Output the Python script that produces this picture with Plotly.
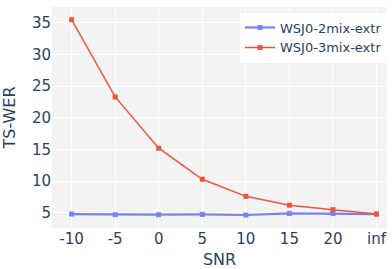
import plotly.graph_objects as go

snr = ["-10", "-5", "0", "5", "10", "15", "20", "inf"]
wer_2mix = [4.8, 4.7, 4.7, 4.75, 4.65, 4.9, 4.9, 4.8]
wer_3mix = [35.5, 23.3, 15.2, 10.3, 7.6, 6.2, 5.5, 4.8]

fig = go.Figure()
fig.add_trace(go.Scatter(x=snr, y=wer_2mix, name="WSJ0-2mix-extr", mode="lines+markers",
                         line=dict(color="#636efa", width=2.2), marker=dict(size=5, symbol="square"),
                         opacity=0.85))
fig.add_trace(go.Scatter(x=snr, y=wer_3mix, name="WSJ0-3mix-extr", mode="lines+markers",
                         line=dict(color="#EF553B", width=1.5), marker=dict(size=5, symbol="square")))

fig.update_layout(
    width=392, height=269,
    template="plotly",
    paper_bgcolor="white",
    plot_bgcolor="#f3f3f3",
    margin=dict(l=52, r=5, t=7, b=41),
    font=dict(family="DejaVu Sans, Verdana, sans-serif", size=15, color="#2a3f5f"),
    legend=dict(x=1, y=0.975, xanchor="right", yanchor="top", bgcolor="white",
                font=dict(size=13), tracegroupgap=0),
    xaxis=dict(title=dict(text="SNR", font=dict(size=16)), type="category", range=[-0.45, 7.24],
               tickfont=dict(size=15), gridcolor="white", automargin=False),
    yaxis=dict(title=dict(text="TS-WER", font=dict(size=16)), range=[2.6, 37.5],
               tickvals=[5, 10, 15, 20, 25, 30, 35],
               tickfont=dict(size=15), gridcolor="white", zeroline=False, automargin=False),
)
fig.write_html("out.html", post_script="document.body.style.margin='0';",
               config={"displayModeBar": False})
